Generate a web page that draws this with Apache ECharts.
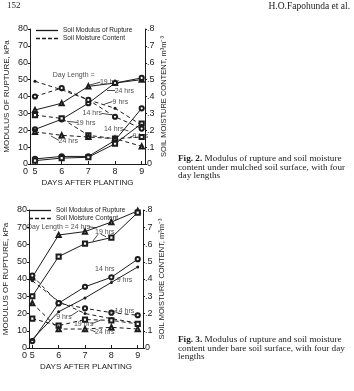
<!DOCTYPE html>
<html>
<head>
<meta charset="utf-8">
<script src="https://cdn.jsdelivr.net/npm/echarts@6/dist/echarts.min.js"></script>
<style>
html, body { margin: 0; padding: 0; background: #fff; }
#main { width: 354px; height: 391px; }
</style>
</head>
<body>
<div id="main"></div>
<script>
var days = [5, 6, 7, 8, 9];
var kpaTicks = [0, 10, 20, 30, 40, 50, 60, 70, 80];
var moistTicks = [0, 0.1, 0.2, 0.3, 0.4, 0.5, 0.6, 0.7, 0.8];

// Fig. 2 - mulched surface
var mulchRup19 = [32, 36, 46, 48, 50];
var mulchRup24 = [20.5, 26.5, 36, 48, 51];
var mulchRup14 = [3, 4.5, 4.5, 14, 33];
var mulchRup9 = [2, 3.5, 4, 12, 24];
var mulchMoist9 = [0.49, 0.44, 0.38, 0.33, 0.23];
var mulchMoist14 = [0.40, 0.45, 0.38, 0.28, 0.21];
var mulchMoist19 = [0.29, 0.27, 0.17, 0.15, 0.16];
var mulchMoist24 = [0.19, 0.17, 0.16, 0.15, 0.105];

// Fig. 3 - bare surface
var bareRup24 = [41, 65.5, 67.5, 73, 79.5];
var bareRup19 = [30, 53, 60.5, 64, 78.5];
var bareRup14 = [4, 26, 35.5, 41, 51.5];
var bareRup9 = [5, 21, 29, 38, 47];
var bareMoist9 = [0.39, 0.27, 0.20, 0.17, 0.145];
var bareMoist14 = [0.42, 0.26, 0.23, 0.205, 0.19];
var bareMoist19 = [0.17, 0.13, 0.165, 0.16, 0.14];
var bareMoist24 = [0.26, 0.11, 0.11, 0.12, 0.11];

// annotation texts [day, kPa, text]
var notes2 = [
  [6.45, 53, 'Day Length ='],
  [7.8, 48.5, '19 hrs'],
  [8.35, 43.5, '24 hrs'],
  [8.2, 37, '9 hrs'],
  [7.15, 30, '14 hrs'],
  [6.9, 24.4, '19 hrs'],
  [6.25, 13.8, '24 hrs'],
  [7.95, 20.6, '14 hrs'],
  [8.95, 16.8, '9 hrs']
];
var arrows2 = [
  [7.45, 48.5, 7.05, 46.8],
  [8.0, 43.5, 7.7, 43.5],
  [7.9, 37, 7.6, 35.4],
  [7.5, 30, 7.85, 29.2],
  [6.6, 24.6, 6.2, 25.3],
  [5.9, 14, 5.6, 16.6],
  [8.3, 20.6, 8.5, 19.6],
  [8.7, 16.8, 8.55, 15.8]
];
var notes3 = [
  [6.0, 70.3, 'Day Length = 24 hrs'],
  [7.75, 67.5, '19 hrs'],
  [7.75, 45.6, '14 hrs'],
  [8.5, 39.4, '9 hrs'],
  [8.5, 21.6, '14 hrs'],
  [6.2, 18.1, '9 hrs'],
  [6.95, 13.7, '19 hrs'],
  [7.75, 9.1, '24 hrs']
];
var arrows3 = [
  [7.15, 70.3, 7.45, 69.6],
  [7.5, 66, 7.3, 62],
  [7.6, 66, 7.8, 64.5],
  [6.45, 18.5, 6.75, 21.5],
  [7.25, 14, 7.6, 16.2],
  [7.4, 9.3, 7.2, 10.6],
  [8.2, 21.6, 7.95, 20.8]
];

var ink = '#1c1c1c';
var sans = 'Liberation Sans';
var serif = '"Liberation Serif"';

function pts(arr) {
  return days.map(function (d, i) { return [d, arr[i]]; });
}

function lineSeries(arr, xi, yi, symbol, dashed) {
  return {
    type: 'line',
    xAxisIndex: xi,
    yAxisIndex: yi,
    data: pts(arr),
    symbol: symbol,
    symbolSize: symbol === 'circle' ? 3 : 4.2,
    showSymbol: true,
    showAllSymbol: true,
    color: ink,
    itemStyle: { color: ink, borderWidth: 0.8 },
    lineStyle: { color: ink, width: 1, type: dashed ? [4, 3] : 'solid' },
    animation: false,
    silent: true
  };
}

function noteSeries(notes, arrows, xi, yi) {
  return {
    type: 'scatter',
    xAxisIndex: xi,
    yAxisIndex: yi,
    symbolSize: 0.1,
    itemStyle: { color: 'transparent' },
    data: notes.map(function (n) { return { name: n[2], value: [n[0], n[1]] }; }),
    label: {
      show: true,
      position: 'inside',
      formatter: '{b}',
      color: ink,
      fontFamily: sans,
      fontSize: 7
    },
    markLine: {
      silent: true,
      animation: false,
      symbol: ['none', 'arrow'],
      symbolSize: [0, 4],
      label: { show: false },
      lineStyle: { color: ink, width: 0.8, type: 'solid' },
      data: arrows.map(function (a) {
        return [{ coord: [a[0], a[1]] }, { coord: [a[2], a[3]] }];
      })
    },
    animation: false,
    silent: true
  };
}

function xAxisCfg(gi, min, max) {
  return {
    type: 'value',
    gridIndex: gi,
    min: min,
    max: max,
    name: 'DAYS AFTER PLANTING',
    nameLocation: 'middle',
    nameGap: 15,
    nameTextStyle: { color: ink, fontFamily: sans, fontSize: 8 },
    axisLine: { show: true, onZero: false, lineStyle: { color: ink, width: 1 } },
    axisTick: { show: true, length: 3, inside: true, customValues: days, lineStyle: { color: ink } },
    axisLabel: {
      customValues: [min].concat(days),
      margin: 3,
      color: ink,
      fontFamily: sans,
      fontSize: 9,
      formatter: function (v) { return v < 5 ? '{z|0}' : String(v); },
      rich: { z: { padding: [0, 9, 0, 0], fontSize: 9, fontFamily: sans, color: ink } }
    },
    splitLine: { show: false }
  };
}

function yLeftCfg(gi) {
  return {
    type: 'value',
    gridIndex: gi,
    min: kpaTicks[0],
    max: kpaTicks[kpaTicks.length - 1],
    interval: 10,
    name: 'MODULUS OF RUPTURE, kPa',
    nameLocation: 'middle',
    nameRotate: 90,
    nameGap: 19,
    nameTextStyle: { color: ink, fontFamily: sans, fontSize: 8 },
    axisLine: { show: true, lineStyle: { color: ink, width: 1 } },
    axisTick: { show: true, length: 2, lineStyle: { color: ink } },
    axisLabel: { margin: 2, color: ink, fontFamily: sans, fontSize: 9 },
    splitLine: { show: false }
  };
}

function yRightCfg(gi) {
  return {
    type: 'value',
    gridIndex: gi,
    position: 'right',
    min: moistTicks[0],
    max: moistTicks[moistTicks.length - 1],
    interval: 0.1,
    name: 'SOIL MOISTURE CONTENT, m\u00b3m\u207b\u00b3',
    nameLocation: 'middle',
    nameRotate: 90,
    nameGap: 15,
    nameTextStyle: { color: ink, fontFamily: sans, fontSize: 7.5 },
    axisLine: { show: true, lineStyle: { color: ink, width: 1 } },
    axisTick: { show: true, length: 2, lineStyle: { color: ink } },
    axisLabel: {
      margin: 2,
      color: ink,
      fontFamily: sans,
      fontSize: 9,
      formatter: function (v) { return v === 0 ? '0' : v.toFixed(1).replace('0.', '.'); }
    },
    splitLine: { show: false }
  };
}

function legendCfg(left, top) {
  return {
    left: left,
    top: top,
    orient: 'vertical',
    itemWidth: 22,
    itemHeight: 1.3,
    itemGap: 1,
    padding: 0,
    symbolKeepAspect: false,
    data: [
      { name: 'Soil Modulus of Rupture', icon: 'rect' },
      { name: 'Soil Moisture Content', icon: 'path://M0,0h4v1h-4zM6,0h4v1h-4zM12,0h4v1h-4zM18,0h4v1h-4z' }
    ],
    itemStyle: { color: ink },
    textStyle: { color: ink, fontFamily: sans, fontSize: 6.5, padding: [0, 0, 0, 0] }
  };
}

var chart = echarts.init(document.getElementById('main'), null, { renderer: 'canvas' });

var option = {
  backgroundColor: '#fff',
  animation: false,
  grid: [
    { left: 30, top: 29, width: 115, height: 135 },
    { left: 29, top: 210, width: 114, height: 138 }
  ],
  legend: [legendCfg(36, 27), legendCfg(29, 207)],
  xAxis: [xAxisCfg(0, 4.813, 9.124), xAxisCfg(1, 4.875, 9.2)],
  yAxis: [yLeftCfg(0), yRightCfg(0), yLeftCfg(1), yRightCfg(1)],
  series: [
    { name: 'Soil Modulus of Rupture', type: 'line', xAxisIndex: 0, yAxisIndex: 0, data: [], symbol: 'none',
      color: ink, lineStyle: { color: ink, width: 1, type: 'solid' } },
    { name: 'Soil Moisture Content', type: 'line', xAxisIndex: 0, yAxisIndex: 0, data: [], symbol: 'none',
      color: ink, lineStyle: { color: ink, width: 1, type: [4, 3] } },

    lineSeries(mulchRup19, 0, 0, 'emptyTriangle', false),
    lineSeries(mulchRup24, 0, 0, 'emptyCircle', false),
    lineSeries(mulchRup14, 0, 0, 'emptyCircle', false),
    lineSeries(mulchRup9, 0, 0, 'emptyRect', false),
    lineSeries(mulchMoist9, 0, 1, 'circle', true),
    lineSeries(mulchMoist14, 0, 1, 'emptyCircle', true),
    lineSeries(mulchMoist19, 0, 1, 'emptyRect', true),
    lineSeries(mulchMoist24, 0, 1, 'emptyTriangle', true),
    noteSeries(notes2, arrows2, 0, 0),

    lineSeries(bareRup24, 1, 2, 'emptyTriangle', false),
    lineSeries(bareRup19, 1, 2, 'emptyRect', false),
    lineSeries(bareRup14, 1, 2, 'emptyCircle', false),
    lineSeries(bareRup9, 1, 2, 'circle', false),
    lineSeries(bareMoist9, 1, 3, 'circle', true),
    lineSeries(bareMoist14, 1, 3, 'emptyCircle', true),
    lineSeries(bareMoist19, 1, 3, 'emptyRect', true),
    lineSeries(bareMoist24, 1, 3, 'emptyTriangle', true),
    noteSeries(notes3, arrows3, 1, 2)
  ],
  graphic: [
    { type: 'text', left: 7, top: 1, style: { text: '152', font: '9px ' + serif, fill: '#222' } },
    { type: 'text', right: 4, top: 1, style: { text: 'H.O.Fapohunda et al.', font: '9.5px ' + serif, fill: '#222' } },
    {
      type: 'text', left: 178, top: 154,
      style: {
        text: '{b|Fig. 2.} Modulus of rupture and soil moisture\ncontent under mulched soil surface, with four\nday lengths',
        font: '9.2px ' + serif,
        lineHeight: 8.6,
        fill: '#222',
        rich: { b: { font: 'bold 9.2px ' + serif, fill: '#222', lineHeight: 8.6 } }
      }
    },
    {
      type: 'text', left: 178, top: 335,
      style: {
        text: '{b|Fig. 3.} Modulus of rupture and soil moisture\ncontent under bare soil surface, with four day\nlengths',
        font: '9.2px ' + serif,
        lineHeight: 8.6,
        fill: '#222',
        rich: { b: { font: 'bold 9.2px ' + serif, fill: '#222', lineHeight: 8.6 } }
      }
    }
  ]
};

chart.setOption(option);
</script>
</body>
</html>
